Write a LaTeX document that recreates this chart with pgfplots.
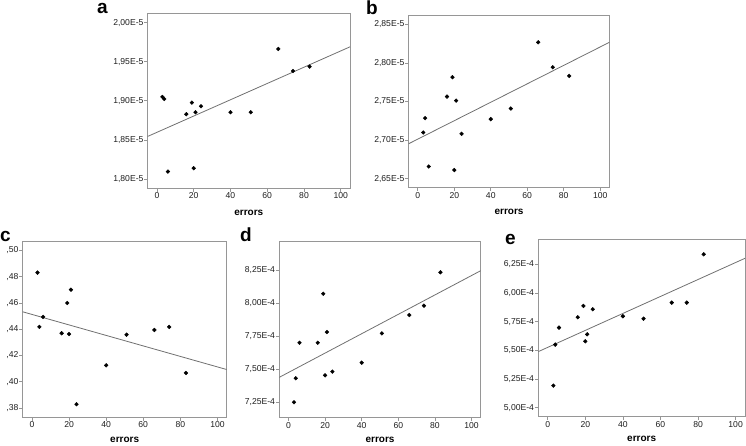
\documentclass[border=0pt]{standalone}
\usepackage{pgfplots}
\pgfplotsset{compat=1.18}
\usepackage{fontspec}
\setmainfont{Liberation Sans}
\definecolor{framegray}{RGB}{150,150,150}
\definecolor{linegray}{RGB}{112,112,112}
\pgfplotsset{
  panel/.style={
    scale only axis,
    xmin=-5, xmax=105,
    xtick={0,20,40,60,80,100},
    axis line style={draw=framegray, line width=0.8pt},
    tick style={draw=framegray, line width=0.7pt},
    tick align=outside,
    major tick length=3.5pt,
    xtick pos=lower, ytick pos=left,
    scaled ticks=false,
    /pgf/number format/assume math mode=true,
    ticklabel style={font=\fontsize{8.6}{10}\selectfont, text=black!88},
    yticklabel style={inner sep=0.6pt},
    xticklabel style={inner sep=1.2pt},
    xlabel={errors},
    xlabel style={font=\bfseries\fontsize{10}{12}\selectfont, inner sep=0pt, at={(axis description cs:0.5,0)}, anchor=base, yshift=-27pt},
    clip=true,
  },
  lowrow/.style={xlabel style={yshift=1.8pt}},
  dots/.style={only marks, mark=*, mark size=1.9pt, black},
  fit/.style={linegray, line width=0.8pt, no marks},
}
\pgfplotstableread{
x a b c d e
3 1.9050 2.7099 0.4830 7.248 5.193
4 1.9024 2.7285 0.4417 7.430 5.550
6 1.8095 2.6659 0.4493 7.699 5.698
16 1.8829 2.7564 0.4369 7.699 5.788
19 1.8977 2.7815 0.4599 8.0705 5.887
20 1.8138 2.6613 0.4363 7.452 5.579
21 1.8854 2.7512 0.4700 7.780 5.640
24 1.8931 2.7082 0.3829 7.480 5.858
40 1.8854 2.7272 0.4125 7.548 5.797
51 1.8854 2.7409 0.4358 7.770 5.776
66 1.9664 2.8267 0.4394 7.909 5.9155
74 1.9382 2.7944 0.4417 7.980 5.9155
83 1.9438 2.7832 0.4067 8.233 6.337
}\datatable
\begin{document}
\begin{tikzpicture}[x=1pt,y=1pt]
\useasboundingbox (0,0) rectangle (746,445);
% panel a
\begin{axis}[panel, at={(147.7pt,257pt)}, anchor=south west,
  width=202.3pt, height=174.7pt, ymin=1.7885, ymax=2.012,
  ytick={1.80,1.85,1.90,1.95,2.00},
  yticklabels={{1,80E-5},{1,85E-5},{1,90E-5},{1,95E-5},{2,00E-5}}]
\addplot[fit] coordinates {(-5,1.8545) (105,1.9691)};
\addplot[dots] table[x=x,y=a] {\datatable};
\end{axis}
% panel b
\begin{axis}[panel, at={(408.7pt,257.7pt)}, anchor=south west,
  width=200.6pt, height=172.3pt, ymin=2.639, ymax=2.862,
  ytick={2.65,2.70,2.75,2.80,2.85},
  yticklabels={{2,65E-5},{2,70E-5},{2,75E-5},{2,80E-5},{2,85E-5}}]
\addplot[fit] coordinates {(-5,2.6954) (105,2.8266)};
\addplot[dots] table[x=x,y=b] {\datatable};
\end{axis}
% panel c
\begin{axis}[panel, lowrow, at={(22.7pt,28pt)}, anchor=south west,
  width=204pt, height=175.3pt, ymin=0.3732, ymax=0.5065,
  ytick={0.38,0.40,0.42,0.44,0.46,0.48,0.50},
  yticklabels={{,38},{,40},{,42},{,44},{,46},{,48},{,50}}]
\addplot[fit] coordinates {(-5,0.4532) (105,0.4093)};
\addplot[dots] table[x=x,y=c] {\datatable};
\end{axis}
% panel d
\begin{axis}[panel, lowrow, at={(279.3pt,27.3pt)}, anchor=south west,
  width=201.4pt, height=176.7pt, ymin=7.131, ymax=8.47,
  ytick={7.25,7.50,7.75,8.00,8.25},
  yticklabels={{7,25E-4},{7,50E-4},{7,75E-4},{8,00E-4},{8,25E-4}}]
\addplot[fit] coordinates {(-5,7.437) (105,8.245)};
\addplot[dots] table[x=x,y=d] {\datatable};
\end{axis}
% panel e
\begin{axis}[panel, lowrow, at={(538.3pt,28.3pt)}, anchor=south west,
  width=206.7pt, height=177.7pt, ymin=4.922, ymax=6.470,
  ytick={5.00,5.25,5.50,5.75,6.00,6.25},
  yticklabels={{5,00E-4},{5,25E-4},{5,50E-4},{5,75E-4},{6,00E-4},{6,25E-4}}]
\addplot[fit] coordinates {(-5,5.489) (105,6.302)};
\addplot[dots] table[x=x,y=e] {\datatable};
\end{axis}
% panel letters
\begin{scope}[every node/.style={font=\bfseries\fontsize{19}{22}\selectfont, inner sep=0pt, anchor=base west}]
\node at (97,431) {a};
\node at (366,430) {b};
\node at (0,203.3) {c};
\node at (240,203.3) {d};
\node at (505,201) {e};
\end{scope}
\end{tikzpicture}
\end{document}
